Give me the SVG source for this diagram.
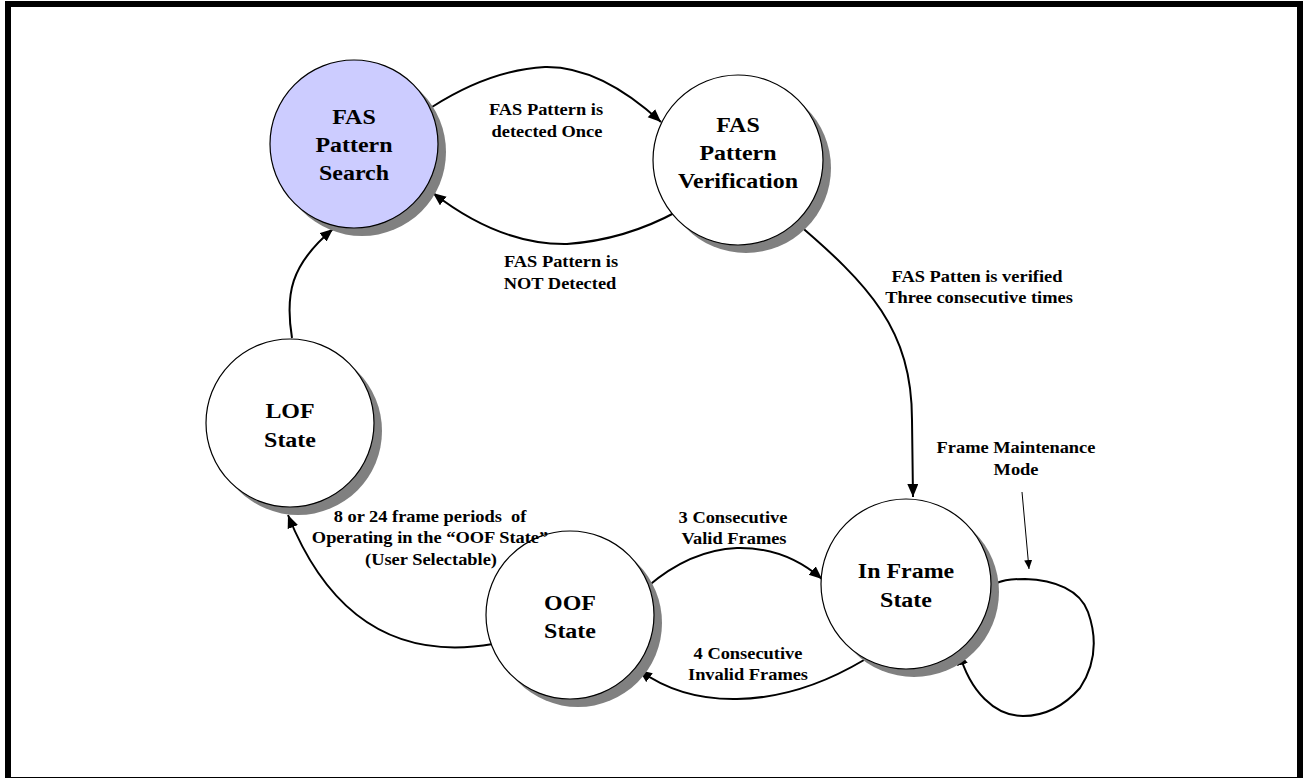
<svg xmlns="http://www.w3.org/2000/svg" width="1303" height="778" viewBox="0 0 1303 778">
  <style>
    .frame { fill: none; stroke: #000; stroke-width: 6; }
    .shadow { fill: #808080; stroke: none; }
    .state { fill: #ffffff; stroke: #000; stroke-width: 1.2; }
    .start { fill: #ccccff; }
    .n { font-family: "Liberation Serif", "Times New Roman", serif; font-weight: bold; font-size: 21px; text-anchor: middle; fill: #000; }
    .e { font-family: "Liberation Serif", "Times New Roman", serif; font-weight: bold; font-size: 16px; text-anchor: middle; fill: #000; white-space: pre; }
    .edge { fill: none; stroke: #000; stroke-width: 2; marker-end: url(#arrow); }
    .pointer { fill: none; stroke: #000; stroke-width: 1; marker-end: url(#arrowSmall); }
  </style>
  <defs>
    <marker id="arrow" markerUnits="userSpaceOnUse" markerWidth="14" markerHeight="12" refX="13" refY="5.5" orient="auto">
      <path d="M0,0 L13,5.5 L0,11 z" fill="#000"/>
    </marker>
    <marker id="arrowSmall" markerUnits="userSpaceOnUse" markerWidth="10" markerHeight="9" refX="9" refY="4" orient="auto">
      <path d="M0,0 L9,4 L0,8 z" fill="#000"/>
    </marker>
  </defs>

  <rect class="frame" x="8" y="4" width="1292" height="776"/>

  <!-- transitions -->
  <g id="connectors">
    <!-- search -> verification -->
    <path class="edge" d="M432,107 Q490,70 545,67 Q600,66 661,122"/>
    <!-- verification -> search -->
    <path class="edge" d="M678,211 Q625,240 567,244 Q500,245 433,193"/>
    <!-- verification -> in frame -->
    <path class="edge" d="M792,219 C870,285 912,330 912,420 L913,497"/>
    <!-- in frame self loop -->
    <path class="edge" d="M991,586 C1000,580 1010,579 1025,579 C1055,580 1080,590 1088,612 C1098,640 1095,665 1080,688 C1065,705 1045,716 1023,716 C995,716 970,692 959,652"/>
    <!-- oof -> in frame -->
    <path class="edge" d="M647,587 Q690,550 737,548 Q785,547 822,579"/>
    <!-- in frame -> oof -->
    <path class="edge" d="M864,660 Q800,698 737,699 Q680,700 639,670"/>
    <!-- oof -> lof -->
    <path class="edge" d="M493,644 C400,660 330,620 288,515"/>
    <!-- lof -> search -->
    <path class="edge" d="M292,338 C285,295 290,265 333,229"/>
    <!-- note pointer to self loop -->
    <path class="pointer" d="M1022,492 L1029,569"/>
  </g>

  <g id="fas-pattern-search">
    <circle class="shadow" cx="362" cy="152" r="84"/>
    <circle class="state start" cx="354" cy="144" r="84"/>
    <text class="n" transform="translate(354,124) scale(1.14,1)">FAS</text>
    <text class="n" transform="translate(354,152) scale(1.14,1)">Pattern</text>
    <text class="n" transform="translate(354,180) scale(1.14,1)">Search</text>
  </g>

  <g id="fas-pattern-verification">
    <circle class="shadow" cx="746" cy="168" r="85"/>
    <circle class="state" cx="738" cy="160" r="85"/>
    <text class="n" transform="translate(738,132) scale(1.14,1)">FAS</text>
    <text class="n" transform="translate(738,160) scale(1.14,1)">Pattern</text>
    <text class="n" transform="translate(738,188) scale(1.14,1)">Verification</text>
  </g>

  <g id="lof-state">
    <circle class="shadow" cx="298" cy="431" r="84"/>
    <circle class="state" cx="290" cy="423" r="84"/>
    <text class="n" transform="translate(290,418) scale(1.14,1)">LOF</text>
    <text class="n" transform="translate(290,447) scale(1.14,1)">State</text>
  </g>

  <g id="oof-state">
    <circle class="shadow" cx="578" cy="623" r="84"/>
    <circle class="state" cx="570" cy="615" r="84"/>
    <text class="n" transform="translate(570,610) scale(1.14,1)">OOF</text>
    <text class="n" transform="translate(570,638) scale(1.14,1)">State</text>
  </g>

  <g id="in-frame-state">
    <circle class="shadow" cx="914" cy="592" r="85"/>
    <circle class="state" cx="906" cy="584" r="85"/>
    <text class="n" transform="translate(906,578) scale(1.14,1)">In Frame</text>
    <text class="n" transform="translate(906,607) scale(1.14,1)">State</text>
  </g>

  <!-- transition labels -->
  <g id="labels">
    <text class="e" transform="translate(546,115) scale(1.15,1)">FAS Pattern is</text>
    <text class="e" transform="translate(547,137) scale(1.15,1)">detected Once</text>

    <text class="e" transform="translate(561,267) scale(1.15,1)">FAS Pattern is</text>
    <text class="e" transform="translate(560,289) scale(1.15,1)">NOT Detected</text>

    <text class="e" transform="translate(977,282) scale(1.15,1)">FAS Patten is verified</text>
    <text class="e" transform="translate(979,303) scale(1.15,1)">Three consecutive times</text>

    <text class="e" transform="translate(1016,453) scale(1.15,1)">Frame Maintenance</text>
    <text class="e" transform="translate(1016,475) scale(1.15,1)">Mode</text>

    <text class="e" transform="translate(733,523) scale(1.15,1)">3 Consecutive</text>
    <text class="e" transform="translate(734,544) scale(1.15,1)">Valid Frames</text>

    <text class="e" transform="translate(748,659) scale(1.15,1)">4 Consecutive</text>
    <text class="e" transform="translate(748,680) scale(1.15,1)">Invalid Frames</text>

    <text class="e" transform="translate(430,522) scale(1.15,1)">8 or 24 frame periods  of</text>
    <text class="e" transform="translate(430,543) scale(1.15,1)">Operating in the “OOF State”</text>
    <text class="e" transform="translate(431,565) scale(1.15,1)">(User Selectable)</text>
  </g>
</svg>
